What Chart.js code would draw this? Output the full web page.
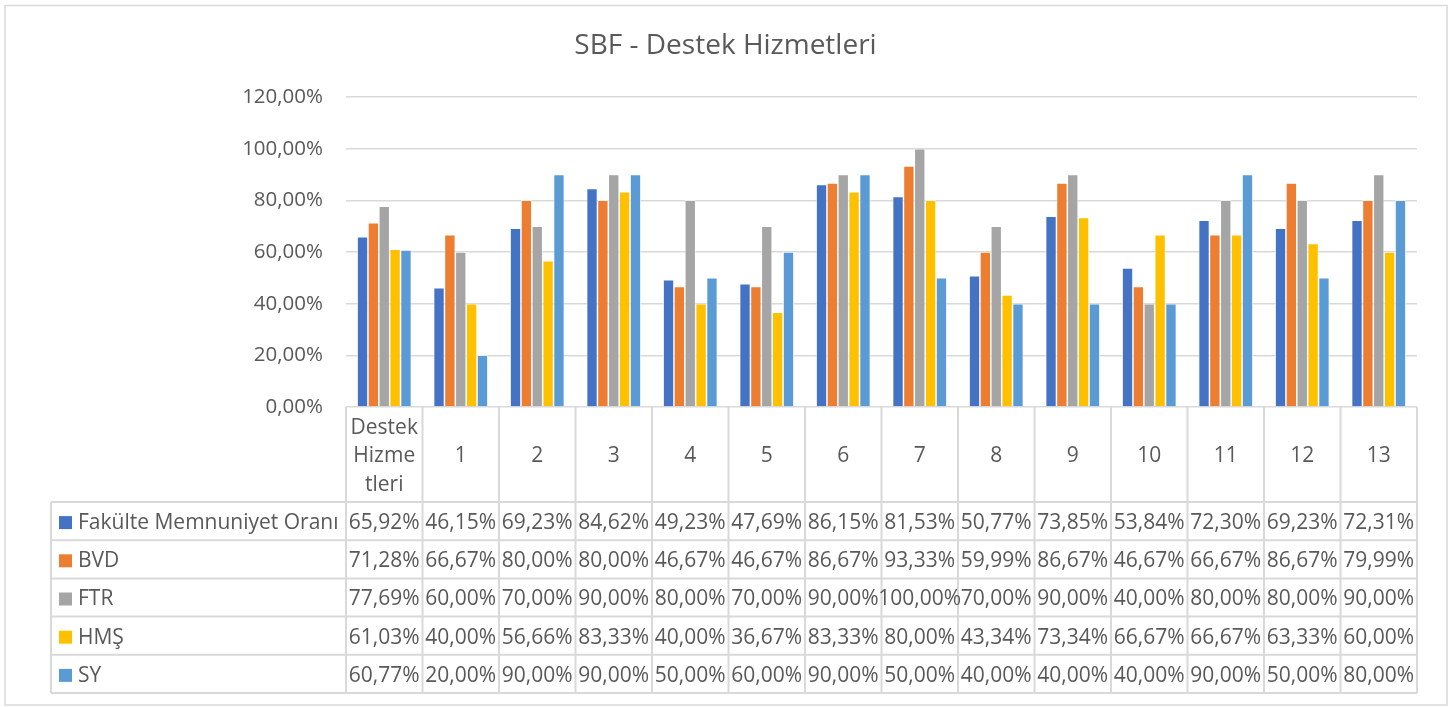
<!DOCTYPE html>
<html>
<head>
<meta charset="utf-8">
<title>SBF - Destek Hizmetleri</title>
<script src="https://cdn.jsdelivr.net/npm/chart.js@4"></script>
<style>
  body { margin: 0; background: #ffffff; }
  canvas { display: block; }
</style>
</head>
<body>
<canvas id="sbfChart" width="1451" height="707"></canvas>
<script>
"use strict"

//global variables
const chartTitle = "SBF - Destek Hizmetleri";
const categories = ["Destek Hizmetleri", "1", "2", "3", "4", "5", "6", "7", "8", "9", "10", "11", "12", "13"];
const categoryLines = [["Destek", "Hizme", "tleri"]];
const seriesNames = ["Fakülte Memnuniyet Oranı", "BVD", "FTR", "HMŞ", "SY"];
const seriesColors = ["#4472C4", "#ED7D31", "#A5A5A5", "#FFC000", "#5B9BD5"];

const fakulteValues = [65.92, 46.15, 69.23, 84.62, 49.23, 47.69, 86.15, 81.53, 50.77, 73.85, 53.84, 72.30, 69.23, 72.31];
const bvdValues = [71.28, 66.67, 80.00, 80.00, 46.67, 46.67, 86.67, 93.33, 59.99, 86.67, 46.67, 66.67, 86.67, 79.99];
const ftrValues = [77.69, 60.00, 70.00, 90.00, 80.00, 70.00, 90.00, 100.00, 70.00, 90.00, 40.00, 80.00, 80.00, 90.00];
const hmsValues = [61.03, 40.00, 56.66, 83.33, 40.00, 36.67, 83.33, 80.00, 43.34, 73.34, 66.67, 66.67, 63.33, 60.00];
const syValues = [60.77, 20.00, 90.00, 90.00, 50.00, 60.00, 90.00, 50.00, 40.00, 40.00, 40.00, 90.00, 50.00, 80.00];
const allValues = [fakulteValues, bvdValues, ftrValues, hmsValues, syValues];

const yTicks = [0, 20, 40, 60, 80, 100, 120];

const textColor = "#595959";
const lineColor = "#d9d9d9";
const fontFamily = "'Open Sans', sans-serif";

//global functions
function formatPercent(value) {
  return value.toFixed(2).replace(".", ",") + "%";
}

//plugins
const frameAndTitle = {
  id: "frameAndTitle",
  afterDraw(chart) {
    const ctx = chart.ctx;
    ctx.save();
    ctx.strokeStyle = lineColor;
    ctx.lineWidth = 1.5;
    ctx.strokeRect(5, 5.5, 1442, 699.5);

    ctx.fillStyle = textColor;
    ctx.font = "28px " + fontFamily;
    ctx.textAlign = "center";
    ctx.textBaseline = "middle";
    ctx.fillText(chartTitle, chart.width / 2, 46);
    ctx.restore();
  }
};

const dataTable = {
  id: "dataTable",
  afterDraw(chart) {
    const ctx = chart.ctx;
    const area = chart.chartArea;
    const xScale = chart.scales.x;
    const cellWidth = (area.right - area.left) / categories.length;
    const headerBottom = 502;
    const rowHeight = 38.2;
    const tableLeft = 51;
    const tableBottom = headerBottom + rowHeight * seriesNames.length;
    const textShift = 2;

    ctx.save();
    ctx.strokeStyle = lineColor;
    ctx.lineWidth = 2;

    //vertical lines
    for (let i = 0; i <= categories.length; i++) {
      const x = area.left + i * cellWidth;
      ctx.beginPath();
      ctx.moveTo(x, area.bottom);
      ctx.lineTo(x, tableBottom);
      ctx.stroke();
    }
    ctx.beginPath();
    ctx.moveTo(tableLeft, headerBottom);
    ctx.lineTo(tableLeft, tableBottom);
    ctx.stroke();

    //horizontal lines
    for (let r = 0; r <= seriesNames.length; r++) {
      const y = headerBottom + r * rowHeight;
      ctx.beginPath();
      ctx.moveTo(tableLeft, y);
      ctx.lineTo(area.right, y);
      ctx.stroke();
    }

    ctx.fillStyle = textColor;
    ctx.font = "21px " + fontFamily;
    ctx.textBaseline = "middle";
    ctx.textAlign = "center";

    //category header
    for (let i = 0; i < categories.length; i++) {
      const cx = xScale.getPixelForValue(i);
      const lines = categoryLines[i] || [categories[i]];
      const midY = (area.bottom + headerBottom) / 2 + textShift;
      const lineH = 28.5;
      lines.forEach(function(line, k) {
        ctx.fillText(line, cx, midY + (k - (lines.length - 1) / 2) * lineH);
      });
    }

    //values
    for (let r = 0; r < seriesNames.length; r++) {
      const cy = headerBottom + r * rowHeight + rowHeight / 2 + textShift;
      for (let i = 0; i < categories.length; i++) {
        ctx.fillText(formatPercent(allValues[r][i]), xScale.getPixelForValue(i), cy);
      }
    }

    //legend keys
    ctx.textAlign = "left";
    for (let r = 0; r < seriesNames.length; r++) {
      const cy = headerBottom + r * rowHeight + rowHeight / 2;
      ctx.fillStyle = seriesColors[r];
      ctx.fillRect(59, cy - 5, 13, 13);
      ctx.fillStyle = textColor;
      ctx.fillText(seriesNames[r], 78, cy + textShift);
    }
    ctx.restore();
  }
};

//build datasets
const datasets = [];
for (let s = 0; s < seriesNames.length; s++) {
  datasets.push({
    label: seriesNames[s],
    data: allValues[s],
    backgroundColor: seriesColors[s],
    borderColor: "#ffffff",
    borderWidth: 0.75,
    categoryPercentage: 0.71,
    barPercentage: 1.0
  });
}

const ctx = document.getElementById("sbfChart").getContext("2d");

const sbfChart = new Chart(ctx, {
  type: "bar",
  data: {
    labels: categories,
    datasets: datasets
  },
  options: {
    responsive: false,
    animation: false,
    layout: {
      padding: { left: 0, right: 34, top: 97, bottom: 300 }
    },
    plugins: {
      legend: { display: false },
      title: { display: false },
      tooltip: { enabled: false }
    },
    scales: {
      x: {
        display: false
      },
      y: {
        min: 0,
        max: 120,
        afterFit: function(scale) {
          scale.width = 346;
        },
        afterBuildTicks: function(scale) {
          scale.ticks = yTicks.map(function(v) { return { value: v }; });
        },
        border: { display: false },
        grid: {
          color: lineColor,
          lineWidth: 1.5,
          drawTicks: false
        },
        ticks: {
          padding: 23,
          color: textColor,
          font: { family: "'Open Sans', sans-serif", size: 20.5 },
          callback: function(value) {
            return formatPercent(value);
          }
        }
      }
    }
  },
  plugins: [frameAndTitle, dataTable]
});
</script>
</body>
</html>
